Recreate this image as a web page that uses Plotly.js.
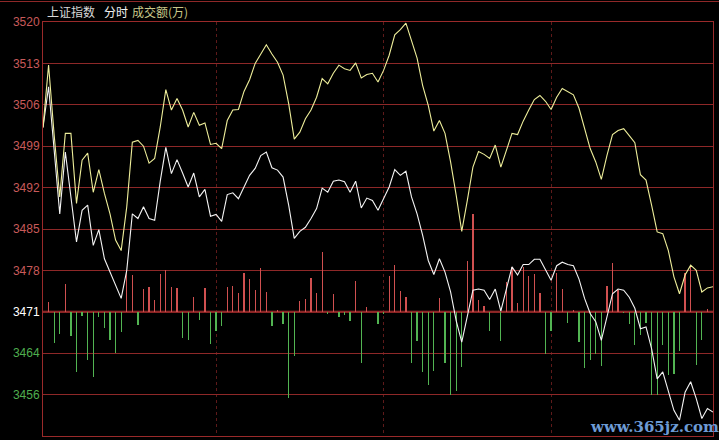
<!DOCTYPE html>
<html><head><meta charset="utf-8">
<script src="https://cdn.plot.ly/plotly-3.0.1.min.js"></script>
<style>html,body{margin:0;padding:0;background:#000;}</style>
</head><body><div id="chart" style="width:719px;height:440px;"></div>
<script>
// 上证指数 intraday (2-minute slots), weighted index (white) and unweighted (yellow)
const WHITE_LINE = [
 3501.9, 3508.9, 3498.0, 3487.1, 3497.7, 3489.8, 3482.3, 3487.7, 3488.6, 3481.7,
 3484.4, 3479.4, 3477.1, 3474.8, 3472.6, 3477.4, 3487.1, 3486.3, 3488.3, 3486.3,
 3486.0, 3492.7, 3498.5, 3494.0, 3496.4, 3494.1, 3491.7, 3494.1, 3490.0, 3491.3,
 3486.7, 3487.0, 3485.8, 3490.4, 3490.7, 3489.7, 3491.7, 3493.7, 3494.9, 3497.1,
 3497.7, 3495.0, 3494.6, 3493.4, 3488.6, 3482.9, 3484.1, 3484.8, 3486.3, 3488.0,
 3491.5, 3490.8, 3492.7, 3492.9, 3492.6, 3490.8, 3492.7, 3488.1, 3489.8, 3489.4,
 3487.7, 3489.7, 3491.7, 3494.7, 3493.7, 3494.4, 3490.0, 3487.1, 3483.4, 3479.1,
 3476.7, 3479.4, 3477.1, 3473.7, 3468.8, 3465.1, 3469.4, 3474.0, 3474.2, 3474.0,
 3472.4, 3474.2, 3470.4, 3474.3, 3478.0, 3476.6, 3478.4, 3478.4, 3479.3, 3479.3,
 3477.4, 3475.7, 3478.2, 3478.8, 3478.4, 3478.2, 3475.9, 3472.6, 3470.0, 3468.6,
 3465.4, 3469.6, 3473.4, 3474.2, 3474.0, 3472.8, 3470.9, 3467.4, 3467.7, 3464.0,
 3458.8, 3460.0, 3456.5, 3453.4, 3451.7, 3456.5, 3458.3, 3455.4, 3452.0, 3453.7,
 3453.1
];
const YELLOW_LINE = [
 3501.9, 3512.6, 3500.6, 3490.0, 3500.9, 3500.9, 3488.9, 3496.3, 3497.5, 3490.8,
 3494.7, 3490.6, 3487.1, 3482.6, 3480.8, 3488.3, 3499.4, 3499.7, 3498.7, 3495.8,
 3496.6, 3502.0, 3508.4, 3504.9, 3506.9, 3504.9, 3502.0, 3504.5, 3502.3, 3502.7,
 3499.0, 3499.2, 3498.3, 3503.1, 3504.9, 3505.0, 3508.1, 3510.1, 3512.9, 3514.5,
 3516.1, 3514.5, 3513.1, 3510.9, 3506.0, 3499.9, 3501.1, 3503.4, 3504.9, 3507.1,
 3510.3, 3509.4, 3511.2, 3512.6, 3512.0, 3511.7, 3513.0, 3510.4, 3511.0, 3511.2,
 3509.7, 3511.7, 3514.3, 3517.8, 3518.7, 3519.8, 3516.9, 3513.8, 3509.1, 3505.7,
 3501.3, 3503.1, 3500.9, 3496.0, 3490.3, 3484.1, 3489.4, 3495.1, 3497.8, 3497.3,
 3496.6, 3498.9, 3495.1, 3498.0, 3500.9, 3500.7, 3503.0, 3504.9, 3506.7, 3507.4,
 3506.4, 3505.0, 3507.1, 3508.6, 3508.0, 3507.5, 3505.2, 3501.7, 3498.3, 3496.0,
 3493.0, 3497.1, 3500.7, 3501.4, 3501.7, 3500.5, 3499.3, 3493.8, 3492.9, 3488.6,
 3484.0, 3483.7, 3480.8, 3476.3, 3473.4, 3476.6, 3478.3, 3477.4, 3473.7, 3474.4,
 3474.6
];
// red/green strength bars, signed, measured from the 3471 reference line
const BARS = [
 0, 1.63, -5.32, -3.77, 4.72, -4.20, -10.29, -0.69, -8.23, -11.15,
 -0.86, -2.74, -4.80, -7.12, -3.52, 7.20, 6.35, -2.32, 3.94, 4.20,
 1.94, 6.40, 7.20, 4.17, 4.00, -4.54, -4.92, 2.62, -1.46, 4.03,
 -5.49, -3.21, -2.45, 4.20, 4.37, 3.21, 6.57, 5.57, 3.69, 7.46,
 3.34, -2.45, 0.26, -2.11, -14.75, -7.60, 1.80, 2.14, 5.83, 3.21,
 10.20, -0.34, 3.00, -0.91, -0.63, -1.66, 5.23, -8.80, 0.74, 0,
 -2.06, -0.34, 6.09, 7.97, 3.52, 2.54, -8.78, -5.06, -10.38, -12.52,
 -10.12, 2.40, -8.71, -14.23, -13.55, -9.48, 8.66, 16.69, 2.01, 0.91,
 -3.26, 0, -5.06, 5.09, 7.72, 1.49, 7.72, 6.12, 6.47, 3.26,
 -7.20, -3.21, 6.64, 3.86, -1.94, 0.26, -5.23, -9.60, -8.23, -7.20,
 -9.26, 4.37, 8.32, 3.69, -0.26, -2.06, -5.71, -4.00, -1.97, -14.23,
 -14.23, -5.66, -10.86, -10.63, -6.64, 6.60, 7.80, -9.06, -4.85, 0.51,
 0
];
const TICK_LABELS = ['3449','3456','3464','3471','3478','3485','3492','3499','3506','3513','3520'];
const Y_MIN = 3449, Y_MAX = 3520;
const BASE = 3470.3;           // position of the "3471" reference line
const TIME_GRID = [31, 61, 91]; // dotted session dividers (slot index)

const slots = WHITE_LINE.map((_, i) => i);
const step = (Y_MAX - Y_MIN) / (TICK_LABELS.length - 1);
const tickvals = TICK_LABELS.map((_, i) => Y_MIN + i * step);
const refIdx = TICK_LABELS.indexOf('3471');
const ticktext = TICK_LABELS.map((t, i) => {
  const c = i < refIdx ? '#4fae4f' : (i === refIdx ? '#ffffff' : '#c85a5a');
  return '<span style="color:' + c + '">' + t + '</span>';
});

const RED = '#d05050', GREEN = '#52b452';
const traces = [
  {
    type: 'bar', x: slots, y: BARS, base: BASE, width: 0.22,
    marker: {color: BARS.map(v => v >= 0 ? RED : GREEN), line: {width: 0}},
    hoverinfo: 'skip'
  },
  {
    type: 'scatter', mode: 'lines', x: slots, y: WHITE_LINE,
    line: {color: '#f4f4f4', width: 1.1}, hoverinfo: 'skip'
  },
  {
    type: 'scatter', mode: 'lines', x: slots, y: YELLOW_LINE,
    line: {color: '#eeee9a', width: 1.1}, hoverinfo: 'skip'
  }
];

const PW = 670, PH = 414;
const layout = {
  width: 719, height: 440,
  margin: {l: 43, r: 6, t: 22, b: 4, pad: 0},
  paper_bgcolor: '#000', plot_bgcolor: '#000',
  showlegend: false, hovermode: false, bargap: 0,
  font: {family: 'Liberation Sans, Arial, sans-serif', size: 12, color: '#c85a5a'},
  xaxis: {
    range: [0, 120], tickvals: TIME_GRID, showticklabels: false, ticks: '',
    showgrid: true, gridcolor: '#5e1a1a', griddash: 'dot', gridwidth: 1,
    zeroline: false, showline: true, mirror: true, linecolor: '#9a2a2a', linewidth: 1,
    fixedrange: true
  },
  yaxis: {
    range: [Y_MIN, Y_MAX], tickvals: tickvals, ticktext: ticktext, ticks: '',
    showgrid: true, gridcolor: '#8e2828', gridwidth: 1,
    zeroline: false, showline: true, mirror: true, linecolor: '#9a2a2a', linewidth: 1,
    tickfont: {family: 'Liberation Sans, Arial, sans-serif', size: 12},
    fixedrange: true
  },
  shapes: [
    {type: 'line', xref: 'paper', yref: 'y', x0: 0, x1: 1, y0: BASE, y1: BASE,
     line: {color: '#b83030', width: 2}, layer: 'below'},
    {type: 'line', xref: 'paper', yref: 'paper', x0: -43 / PW, x1: 676 / PW,
     y0: 1 + 20.5 / PH, y1: 1 + 20.5 / PH, line: {color: '#8e2828', width: 1}}
  ],
  annotations: [
    {text: '上证指数', xref: 'paper', yref: 'paper', x: 2 / PW, y: 1 + 10 / PH,
     xanchor: 'left', yanchor: 'middle', showarrow: false,
     font: {family: 'Noto Sans CJK SC', size: 12, color: '#d8d8d8'}},
    {text: '分时', xref: 'paper', yref: 'paper', x: 59 / PW, y: 1 + 10 / PH,
     xanchor: 'left', yanchor: 'middle', showarrow: false,
     font: {family: 'Noto Sans CJK SC', size: 12, color: '#f2f2f2'}},
    {text: '成交额(万)', xref: 'paper', yref: 'paper', x: 87 / PW, y: 1 + 10 / PH,
     xanchor: 'left', yanchor: 'middle', showarrow: false,
     font: {family: 'Noto Sans CJK SC', size: 12, color: '#c8c88a'}},
    {text: '<b>www.365jz.com</b>', xref: 'paper', yref: 'paper', x: 611 / PW, y: 9 / PH,
     xanchor: 'center', yanchor: 'middle', showarrow: false,
     font: {family: 'DejaVu Serif', size: 15, color: '#6d9bd4'}}
  ]
};

Plotly.newPlot('chart', traces, layout, {displayModeBar: false, staticPlot: true});
</script></body></html>
